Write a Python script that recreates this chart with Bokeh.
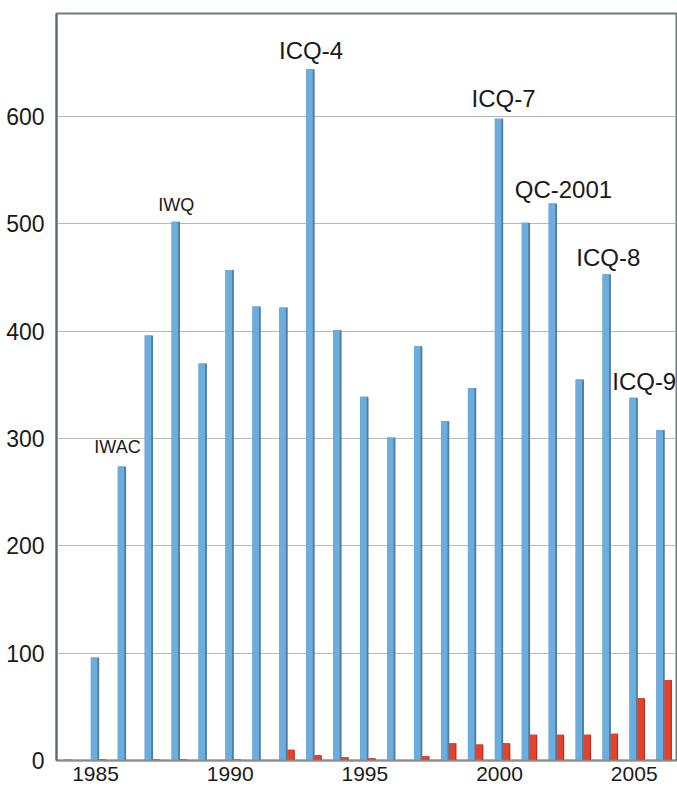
from bokeh.plotting import figure
from bokeh.models import ColumnDataSource, Range1d
from bokeh.core.properties import value
from bokeh.embed import file_html
from bokeh.resources import INLINE

# ---- data ----
years = list(range(1984, 2007))
blue_values = [1, 96, 274, 396, 502, 370, 457, 423, 422, 644, 401, 339, 301,
               386, 316, 347, 598, 501, 519, 355, 453, 338, 308]
red_values = [0, 1, 0, 1, 1, 0, 1, 0, 10, 5, 3, 2, 0,
              4, 16, 15, 16, 24, 24, 24, 25, 58, 75]
event_names = ["IWAC", "IWQ", "ICQ-4", "ICQ-7", "QC-2001", "ICQ-8", "ICQ-9"]
event_years = [1986, 1988, 1993, 2000, 2002, 2004, 2005]
x_ticks = [1985, 1990, 1995, 2000, 2005]
y_ticks = [0, 100, 200, 300, 400, 500, 600]

# ---- styles ----
BLUE = "#6cade0"
BLUE_DARK = "#4f7f9f"
RED = "#e8412b"
RED_DARK = "#a8301f"
FONT = "Liberation Sans"
event_x_off = [-5, 0, 0, 4, 10, 1, 10]
event_y_off = [-19, -17, -19, -20, -14, -17, -16]
event_sizes = ["18px", "18px", "24px", "24px", "24px", "24px", "24px"]

p = figure(width=677, height=787, output_backend="svg", toolbar_location=None,
           x_range=Range1d(1983.55, 2006.57), y_range=Range1d(0, 696),
           min_border_left=56, min_border_right=1, min_border_top=13,
           min_border_bottom=27, background_fill_color="white")

src = ColumnDataSource(dict(
    year=years, blue=blue_values, red=red_values,
    bx=[y - 0.02 for y in years],
    bxl=[y - 0.055 for y in years],
    rx=[y + 0.265 for y in years],
    rxl=[y + 0.245 for y in years],
))
p.vbar(x="bx", top="blue", bottom=0, width=0.31, source=src,
       fill_color=BLUE_DARK, line_color=None)
p.vbar(x="bxl", top="blue", bottom=0, width=0.24, source=src,
       fill_color=BLUE, line_color=None)
p.vbar(x="rx", top="red", bottom=0, width=0.27, source=src,
       fill_color=RED_DARK, line_color=None)
p.vbar(x="rxl", top="red", bottom=0, width=0.23, source=src,
       fill_color=RED, line_color=None)

# event labels
ev_vals = [blue_values[years.index(y)] for y in event_years]
esrc = ColumnDataSource(dict(x=event_years, y=ev_vals, text=event_names,
                             xo=event_x_off, yo=event_y_off, size=event_sizes))
p.text(x="x", y="y", text="text", x_offset="xo", y_offset="yo",
       text_font_size="size", text_font=value(FONT), text_color="#1a1a1a",
       text_align="center", text_baseline="alphabetic", source=esrc)

# axes & grid
p.xgrid.visible = False
p.ygrid.ticker = y_ticks
p.ygrid.grid_line_color = "#b9b9b9"
p.ygrid.grid_line_width = 1

p.xaxis.ticker = x_ticks
p.yaxis.ticker = y_ticks
for ax in (p.xaxis, p.yaxis):
    ax.major_tick_line_color = None
    ax.minor_tick_line_color = None
    ax.major_label_text_font = FONT
    ax.major_label_text_color = "#1a1a1a"
p.xaxis.major_label_text_font_size = "21px"
p.yaxis.major_label_text_font_size = "23px"
p.xaxis.major_label_standoff = 0
p.yaxis.major_label_standoff = 6
p.xaxis.axis_line_color = "#8c8c8c"
p.xaxis.axis_line_width = 1.5
p.yaxis.axis_line_color = "#5f6b6b"
p.yaxis.axis_line_width = 2

p.outline_line_color = "#6f7d7d"
p.outline_line_width = 2

open("out.html", "w").write(file_html(p, INLINE))
